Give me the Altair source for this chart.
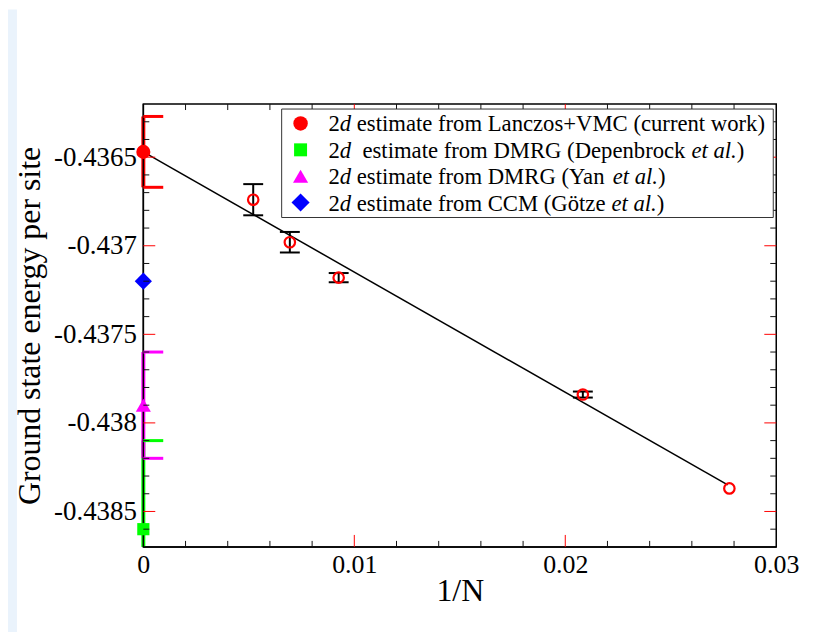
import altair as alt
import pandas as pd

# ---------------- data ----------------
inv_n = [0.005208, 0.006944, 0.009259, 0.020833, 0.027778]
energy = [-0.43674, -0.43698, -0.43718, -0.43784, -0.43837]
energy_err = [0.000088, 0.000058, 0.000026, 0.000017, 0.0]

fit_x = [0.0, 0.0277]
fit_y = [-0.43647, -0.43835]

est_value = [-0.43647, -0.4386, -0.4379, -0.4372]
est_err = [0.0002, 0.0005, 0.0003, 0.0]
est_color = ["#ff0000", "#00ff00", "#ff00ff", "#0000ff"]
est_shape = ["circle", "square", "triangle-up", "diamond"]
est_size = [200, 150, 230, 300]

legend_segments = [
    [("2", False), ("d", True), (" estimate from Lanczos+VMC (current work)", False)],
    [("2", False), ("d", True), ("  estimate from DMRG (Depenbrock ", False), ("et al.", True), (")", False)],
    [("2", False), ("d", True), (" estimate from DMRG (Yan ", False), ("et al.", True), (")", False)],
    [("2", False), ("d", True), (" estimate from CCM (Götze ", False), ("et al.", True), (")", False)],
]
legend_symbol_size = [210, 170, 230, 330]

x_ticks_major = [0.0, 0.01, 0.02, 0.03]
x_ticks_minor = [0.002, 0.004, 0.006, 0.008, 0.012, 0.014, 0.016, 0.018,
                 0.022, 0.024, 0.026, 0.028]
y_ticks_major = [-0.4385, -0.438, -0.4375, -0.437, -0.4365]
y_ticks_minor = [-0.4386, -0.4384, -0.4383, -0.4382, -0.4381, -0.4379, -0.4378,
                 -0.4377, -0.4376, -0.4374, -0.4373, -0.4372, -0.4371, -0.4369,
                 -0.4368, -0.4367, -0.4366, -0.4364, -0.4363]

X_DOMAIN = [0.0, 0.03]
Y_DOMAIN = [-0.4387, -0.4362]

# ---------------- layout ----------------
W, H = 636, 445
SERIF = "Liberation Serif"
FS_LEG = 22.8

TIMES = {' ': 250, '(': 333, ')': 333, '+': 564, '.': 250, '2': 500, 'A': 722,
         'C': 667, 'D': 722, 'G': 722, 'L': 611, 'M': 889, 'R': 667, 'V': 722,
         'Y': 722, 'a': 444, 'b': 500, 'c': 444, 'd': 500, 'e': 444, 'f': 333,
         'g': 500, 'h': 500, 'i': 278, 'k': 500, 'l': 278, 'm': 778, 'n': 500,
         'o': 500, 'p': 500, 'r': 333, 's': 389, 't': 278, 'u': 500, 'w': 722,
         'z': 444, 'ö': 500, 'y': 500}
TIMES_IT = {'d': 500, 'e': 444, 't': 278, ' ': 250, 'a': 500, 'l': 278, '.': 250}


def text_width(s, italic):
    tab = TIMES_IT if italic else TIMES
    return sum(tab.get(c, 500) for c in s) * FS_LEG / 1000.0


xscale = alt.Scale(domain=X_DOMAIN, nice=False, zero=False)
yscale = alt.Scale(domain=Y_DOMAIN, nice=False, zero=False, clamp=True)

xaxis = alt.Axis(values=x_ticks_major, format=".2~f", labelFont=SERIF, labelFontSize=26,
                 labelColor="black", ticks=False, tickSize=0, domain=False, grid=False,
                 labelPadding=5, labelFlush=False, labelOverlap=False,
                 title="1/N", titleFont=SERIF, titleFontSize=32, titleFontWeight="normal",
                 titleColor="black", titleBaseline="alphabetic", titleAlign="center",
                 titleX=W / 2, titleY=54)
yaxis = alt.Axis(values=y_ticks_major, format=".4~f",
                 labelExpr="replace(datum.label, '\u2212', '-')",
                 labelFont=SERIF, labelFontSize=27, labelColor="black", ticks=False,
                 tickSize=0, domain=False, grid=False, labelPadding=7, labelFlush=False,
                 labelOverlap=False,
                 title="Ground state energy per site", titleFont=SERIF, titleFontSize=32,
                 titleFontWeight="normal", titleColor="black", titleAngle=270,
                 titleBaseline="alphabetic", titleAlign="center", titleX=-104, titleY=H / 2)


def X(f):
    return alt.X(f, type="quantitative", scale=xscale, axis=xaxis)


def Y(f):
    return alt.Y(f, type="quantitative", scale=yscale, axis=yaxis)


one = pd.DataFrame({"k": [0]})

pts = pd.DataFrame({"x": inv_n, "y": energy, "e": energy_err})
pts["lo"] = pts["y"] - pts["e"]
pts["hi"] = pts["y"] + pts["e"]
bars = pts[pts["e"] > 0]
caps = pd.DataFrame({"x": list(bars["x"]) * 2, "y": list(bars["lo"]) + list(bars["hi"])})

fit = pd.DataFrame({"x": fit_x, "y": fit_y})

est = pd.DataFrame({"x": [0.0] * 4, "y": est_value, "e": est_err, "color": est_color,
                    "shape": est_shape, "size": est_size})
est["lo"] = est["y"] - est["e"]
est["hi"] = est["y"] + est["e"]
est_bars = est[est["e"] > 0]
est_caps = pd.DataFrame({"x": [0.0] * (2 * len(est_bars)),
                         "y": list(est_bars["hi"]) + list(est_bars["lo"]),
                         "color": list(est_bars["color"]) * 2})
est_caps = est_caps[(est_caps["y"] >= Y_DOMAIN[0]) & (est_caps["y"] <= Y_DOMAIN[1])]

yt_major = pd.DataFrame({"v": y_ticks_major})
yt_minor = pd.DataFrame({"v": y_ticks_minor})
xt_major = pd.DataFrame({"v": x_ticks_major[1:-1]})
xt_minor = pd.DataFrame({"v": x_ticks_minor})

layers = []

# left light-blue page strip
layers.append(alt.Chart(one).mark_rect(color="#eaf3fc").encode(
    x=alt.value(-136), x2=alt.value(-127), y=alt.value(-95), y2=alt.value(H + 90)))

# fit line
layers.append(alt.Chart(fit).mark_line(color="black", strokeWidth=1.5).encode(
    x=X("x"), y=Y("y")))

# error bars of finite-size points
layers.append(alt.Chart(bars).mark_rule(color="black", strokeWidth=2, opacity=1).encode(
    x=X("x"), y=Y("lo"), y2="hi"))
layers.append(alt.Chart(caps).mark_tick(color="black", orient="horizontal", size=20,
                                        thickness=2, opacity=1).encode(x=X("x"), y=Y("y")))

# finite-size points
layers.append(alt.Chart(pts).mark_point(shape="circle", filled=False, color="#ff0000",
                                        size=110, strokeWidth=2.2, opacity=1).encode(
    x=X("x"), y=Y("y")))

# 2d estimate error bars
layers.append(alt.Chart(est_bars).mark_rule(strokeWidth=4, opacity=1).encode(
    x=X("x"), y=Y("lo"), y2="hi", color=alt.Color("color:N", scale=None)))

# frame (left and bottom) over the error bars
layers.append(alt.Chart(one).mark_rule(color="black", strokeWidth=1.5).encode(
    x=alt.value(0), y=alt.value(0), y2=alt.value(H)))
layers.append(alt.Chart(one).mark_rule(color="black", strokeWidth=1.5).encode(
    x=alt.value(0), x2=alt.value(W), y=alt.value(H)))

# caps of estimate brackets
layers.append(alt.Chart(est_caps).mark_tick(orient="horizontal", size=20, thickness=3,
                                            xOffset=10, opacity=1).encode(
    x=X("x"), y=Y("y"), color=alt.Color("color:N", scale=None)))

# estimate symbols
layers.append(alt.Chart(est).mark_point(filled=True, opacity=1).encode(
    x=X("x"), y=Y("y"), color=alt.Color("color:N", scale=None),
    shape=alt.Shape("shape:N", scale=None), size=alt.Size("size:Q", scale=None)))

# inward ticks: left / right
for df, col, ln in [(yt_minor, "#111111", 6), (yt_major, "#ff0000", 12)]:
    layers.append(alt.Chart(df).mark_rule(color=col, strokeWidth=1).encode(
        y=Y("v"), x=alt.value(0), x2=alt.value(ln)))
    layers.append(alt.Chart(df).mark_rule(color=col, strokeWidth=1).encode(
        y=Y("v"), x=alt.value(W), x2=alt.value(W - ln)))
# inward ticks: bottom / top
for df, col, ln in [(xt_minor, "#111111", 6), (xt_major, "#ff0000", 12)]:
    layers.append(alt.Chart(df).mark_rule(color=col, strokeWidth=1).encode(
        x=X("v"), y=alt.value(H), y2=alt.value(H - ln)))
    layers.append(alt.Chart(df).mark_rule(color=col, strokeWidth=1).encode(
        x=X("v"), y=alt.value(0), y2=alt.value(ln)))

# legend box
LEG_X0, LEG_X1, LEG_Y0, LEG_Y1 = 139, 633, 5, 114
layers.append(alt.Chart(one).mark_rect(fill="white", stroke="#333333", strokeWidth=1).encode(
    x=alt.value(LEG_X0), x2=alt.value(LEG_X1), y=alt.value(LEG_Y0), y2=alt.value(LEG_Y1)))

LEG_SYM_X, LEG_TEXT_X = 158, 186
row_y = [19.5, 46, 72.5, 99]
for i in range(4):
    layers.append(alt.Chart(one).mark_point(filled=True, opacity=1, shape=est_shape[i],
                                            color=est_color[i],
                                            size=legend_symbol_size[i]).encode(
        x=alt.value(LEG_SYM_X), y=alt.value(row_y[i])))
    x = LEG_TEXT_X
    for txt, it in legend_segments[i]:
        lead = len(txt) - len(txt.lstrip(" "))
        x_start = x + text_width(" " * lead, it)
        layers.append(alt.Chart(one).mark_text(
            text=txt.strip(), font=SERIF, fontSize=FS_LEG,
            fontStyle="italic" if it else "normal", align="left",
            baseline="alphabetic", color="black").encode(
            x=alt.value(x_start), y=alt.value(row_y[i] + 8)))
        x += text_width(txt, it)

chart = alt.layer(*layers).properties(
    width=W, height=H,
    autosize=alt.AutoSizeParams(type="none"),
    padding={"left": 136, "top": 95, "right": 50, "bottom": 84},
    background="white",
).configure_view(stroke="black", strokeWidth=1.5)

chart.save("out.html", embed_options={"renderer": "svg", "actions": False})
